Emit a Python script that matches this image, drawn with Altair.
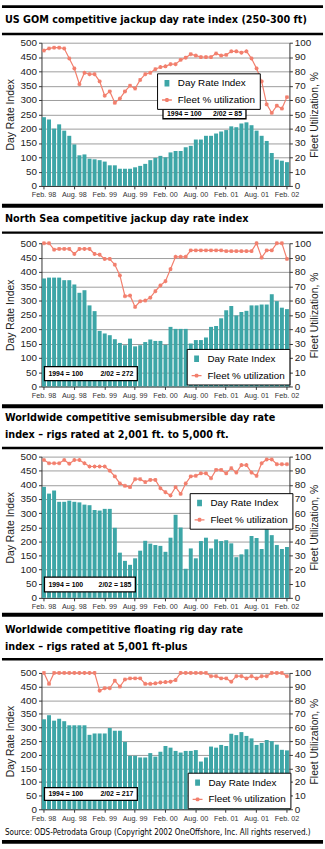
import altair as alt
import pandas as pd

# ---------------- data ----------------
TICK_LABELS = ["Feb. 98", "Aug. 98", "Feb. 99", "Aug. 99", "Feb. 00",
               "Aug. 00", "Feb. 01", "Aug. 01", "Feb. 02"]
MONTH_INDEX = list(range(49))  # Feb 98 ... Feb 02, monthly

GOM_RATE = [240, 232, 200, 215, 193, 175, 145, 107, 110, 95, 93, 90, 85, 72, 72, 60, 60,
            60, 65, 70, 77, 90, 98, 105, 100, 117, 122, 122, 135, 140, 162, 162, 175, 175,
            183, 190, 195, 208, 205, 218, 222, 212, 193, 175, 157, 115, 92, 88, 83]
GOM_UTIL = [94.5, 96, 96.5, 96.5, 96, 89, 82, 71, 79, 78, 78, 73, 63, 66, 58, 61, 66, 70,
            68, 74, 78, 79, 81.5, 83, 83.5, 85, 85, 88, 89.5, 92, 91, 90, 90, 90, 92.5, 91,
            91.5, 94, 94, 93, 94, 89, 82, 73, 57, 51, 56, 54, 62]

NS_RATE = [377, 380, 380, 380, 371, 371, 356, 327, 336, 283, 263, 194, 185, 179, 165, 152,
           144, 167, 140, 144, 155, 164, 159, 159, 145, 208, 201, 201, 201, 150, 162, 162,
           171, 208, 211, 238, 266, 281, 248, 260, 264, 283, 283, 286, 286, 322, 298, 275, 270]
NS_UTIL = [100, 100, 95.5, 96, 96, 96, 92.5, 96, 96, 96, 92.5, 92, 89, 89, 85, 77.5, 63,
           63.5, 55.5, 59.5, 60, 62, 66.5, 70.5, 73.5, 82, 90.5, 90.5, 90.5, 95, 95, 95, 95,
           95, 95, 95, 94.5, 94.5, 94.5, 94.5, 94.5, 94.5, 100, 90, 95, 95, 100, 100, 89]

SEMI_RATE = [393, 369, 380, 340, 340, 344, 340, 338, 330, 328, 311, 309, 315, 315, 248, 160,
             131, 117, 140, 167, 202, 192, 187, 184, 163, 213, 294, 249, 103, 175, 140, 201,
             213, 175, 207, 201, 204, 193, 144, 154, 172, 219, 212, 173, 259, 222, 187, 173, 180]
SEMI_UTIL = [97.6, 95.3, 95.3, 95.3, 97.6, 95, 97.6, 97.6, 95.3, 93, 93, 93, 93, 90, 86, 81,
             79.3, 78.4, 84, 84, 82, 83.5, 83.5, 77.6, 74.8, 72.5, 78.4, 73.6, 81, 86, 86.4,
             88.2, 88.2, 84.7, 90.6, 90.6, 88.2, 91.8, 88.7, 94, 94, 88.7, 86.4, 95.3, 98, 98,
             94.6, 94.6, 94.6]

FLOAT_RATE = [330, 345, 325, 332, 323, 308, 308, 308, 308, 273, 278, 278, 278, 298, 288, 288,
              247, 196, 196, 190, 190, 206, 193, 211, 232, 226, 214, 208, 214, 214, 217, 175,
              190, 230, 226, 236, 232, 277, 272, 283, 269, 260, 236, 243, 254, 250, 237, 218, 216]
FLOAT_UTIL = [100, 92, 100, 100, 100, 100, 100, 100, 100, 100, 100, 87, 88.8, 88.8, 94.3, 90,
              95.2, 96, 96, 96, 92, 92, 92.4, 93, 93.3, 93.6, 94.8, 100, 100, 100, 100, 100,
              100, 97.6, 97.6, 96, 96, 93.6, 97.6, 97.6, 96, 97.6, 96, 97.6, 97.6, 100, 100,
              100, 97.6]

TITLES = [
    ["US GOM competitive jackup day rate index (250-300 ft)"],
    ["North Sea competitive jackup day rate index"],
    ["Worldwide competitive semisubmersible day rate",
     "index \u2013 rigs rated at 2,001 ft. to 5,000 ft."],
    ["Worldwide competitive floating rig day rate",
     "index \u2013 rigs rated at 5,001 ft-plus"],
]
STAMPS = ["2/02 = 85", "2/02 = 272", "2/02 = 185", "2/02 = 217"]
BASE = "1994 = 100"
SOURCE = "Source: ODS-Petrodata Group (Copyright 2002 OneOffshore, Inc. All rights reserved.)"
SERIES = ["Day Rate Index", "Fleet % utilization", "marker"]

# ---------------- style ----------------
TEAL = "#3da6a7"
SALMON = "#f27f6d"
FONT = "Liberation Sans"
NARROW = "'DejaVu Sans Condensed', 'Liberation Sans', sans-serif"
W = 251

BAR_SYM = "M-0.35,-0.65V0.65M-0.175,-0.65V0.65M0,-0.65V0.65M0.175,-0.65V0.65M0.35,-0.65V0.65"
STAR = "M-0.4,0H0.4M0,-0.4V0.4M-0.3,-0.3L0.3,0.3M-0.3,0.3L0.3,-0.3"
LINE_SYM = "M-1,0H1" + STAR

LABEL_EXPR = str(TICK_LABELS) + "[datum.value / 6]"

one = pd.DataFrame({"a": [0]})


def rule(y, sw):
    return alt.Chart(one).mark_rule(color="black", strokeWidth=sw).encode(
        x=alt.value(-40), x2=alt.value(W + 34), y=alt.value(y))


def text(s, x, y, size, weight="normal", font=FONT, align="left"):
    return alt.Chart(one).mark_text(
        align=align, baseline="middle", fontSize=size, fontWeight=weight,
        font=font, color="black").encode(x=alt.value(x), y=alt.value(y), text=alt.value(s))


def box(x0, x1, y0, y1):
    return alt.Chart(one).mark_rect(fill="white", stroke="black", strokeWidth=1.3).encode(
        x=alt.value(x0), x2=alt.value(x1), y=alt.value(y0), y2=alt.value(y1))


RIGHT_AXIS = alt.Axis(orient="right", values=list(range(0, 101, 10)), grid=False,
                      tickSize=3, tickColor="#333", domainColor="#333",
                      labelFontSize=10, labelColor="#222", labelPadding=2,
                      labelOverlap=False,
                      title="Fleet Utilization, %", titleAngle=270, titleFontSize=10.5,
                      titleFontWeight="normal", titleColor="#222", titlePadding=9)


def panel(rate, util, H, top, bottom, titles, title_ys, top_rule, under_rule,
          legend_xy, bx, stamp, extras=()):
    df = pd.DataFrame({"m": MONTH_INDEX, "rate": rate, "util": util, "series": "marker"})
    x = alt.X("m:O", scale=alt.Scale(paddingInner=0.22, paddingOuter=0.1),
              axis=alt.Axis(values=list(range(0, 49, 6)), labelExpr=LABEL_EXPR, title=None,
                            labelAngle=0, tickSize=3, labelFontSize=7.3, labelPadding=2,
                            offset=-(H - bottom), domainColor="#333", tickColor="#333",
                            labelColor="#333", grid=False, labelOverlap=False))
    bars = alt.Chart(df).mark_bar(color=TEAL).encode(
        x=x,
        y=alt.Y("rate:Q",
                scale=alt.Scale(domain=[0, 500], range=[bottom, top], nice=False),
                axis=alt.Axis(values=list(range(0, 501, 50)), grid=True, gridColor="#9c9c9c",
                              tickSize=3, tickColor="#333", domainColor="#333",
                              labelFontSize=10, labelColor="#222", labelPadding=2,
                              labelOverlap=False,
                              title="Day Rate Index", titleFontSize=10.5,
                              titleFontWeight="normal", titleColor="#222", titlePadding=5)))
    uscale = alt.Scale(domain=[0, 100], range=[bottom, top], nice=False)
    line = alt.Chart(df).mark_line(color=SALMON, strokeWidth=1.2).encode(
        x="m:O",
        y=alt.Y("util:Q", scale=uscale, axis=RIGHT_AXIS))
    leg = dict(title=None, orient="none", legendX=legend_xy[0], legendY=legend_xy[1],
               values=SERIES[:2], strokeColor="black", fillColor="white", padding=4,
               rowPadding=4, labelFontSize=10, labelFont=FONT, labelColor="black",
               symbolSize=100, symbolStrokeWidth=1.4, labelOffset=5, labelLimit=200)
    pts = alt.Chart(df).mark_point(size=100, strokeWidth=1.1, opacity=1, filled=False).encode(
        x="m:O",
        y=alt.Y("util:Q", scale=uscale, axis=RIGHT_AXIS),
        color=alt.Color("series:N", scale=alt.Scale(domain=SERIES, range=[TEAL, SALMON, SALMON]),
                        legend=alt.Legend(**leg)),
        shape=alt.Shape("series:N",
                        scale=alt.Scale(domain=SERIES, range=[BAR_SYM, LINE_SYM, STAR]),
                        legend=alt.Legend(**leg)))
    annots = [rule(top_rule[0], top_rule[1]), rule(under_rule, 2.5)]
    for t, ty in zip(titles, title_ys):
        annots.append(text(t, -37, ty, 10.9, "bold", NARROW))
    x0, x1, y0, y1 = bx
    annots += [box(x0, x1, y0, y1),
               text(BASE, x0 + 4, (y0 + y1) / 2, 7, "bold", FONT),
               text(stamp, x1 - 4, (y0 + y1) / 2, 7, "bold", FONT, align="right")]
    annots += list(extras)
    return alt.layer(alt.layer(bars, *annots), alt.layer(line, pts)).resolve_scale(
        y="independent").properties(width=W, height=H)


p1 = panel(GOM_RATE, GOM_UTIL, 201, 38, 183, TITLES[0], [15], (1.5, 3), 29.25,
           (117, 69), (123, 207, 105, 115), STAMPS[0])
p2 = panel(NS_RATE, NS_UTIL, 203, 40, 185, TITLES[1], [16], (2, 4), 29.25,
           (147, 147), (3, 97, 165, 179), STAMPS[1])
p3 = panel(SEMI_RATE, SEMI_UTIL, 211, 53, 196, TITLES[2], [14, 31], (2, 4), 44.25,
           (150, 90), (3, 95, 175, 190), STAMPS[2])
p4 = panel(FLOAT_RATE, FLOAT_UTIL, 234, 61, 199, TITLES[3], [18, 35], (2, 4), 47.25,
           (148, 162), (3, 97, 177, 190), STAMPS[3],
           extras=[text(SOURCE, -37, 223, 8.1, "normal", NARROW), rule(232, 4)])

chart = alt.vconcat(p1, p2, p3, p4, spacing=0, bounds="flush").resolve_scale(
    color="independent", shape="independent").properties(padding=0).configure_view(
    stroke=None).configure_axis(labelFont=FONT, titleFont=FONT)

chart.save("out.html", embed_options={"renderer": "svg", "actions": False})
